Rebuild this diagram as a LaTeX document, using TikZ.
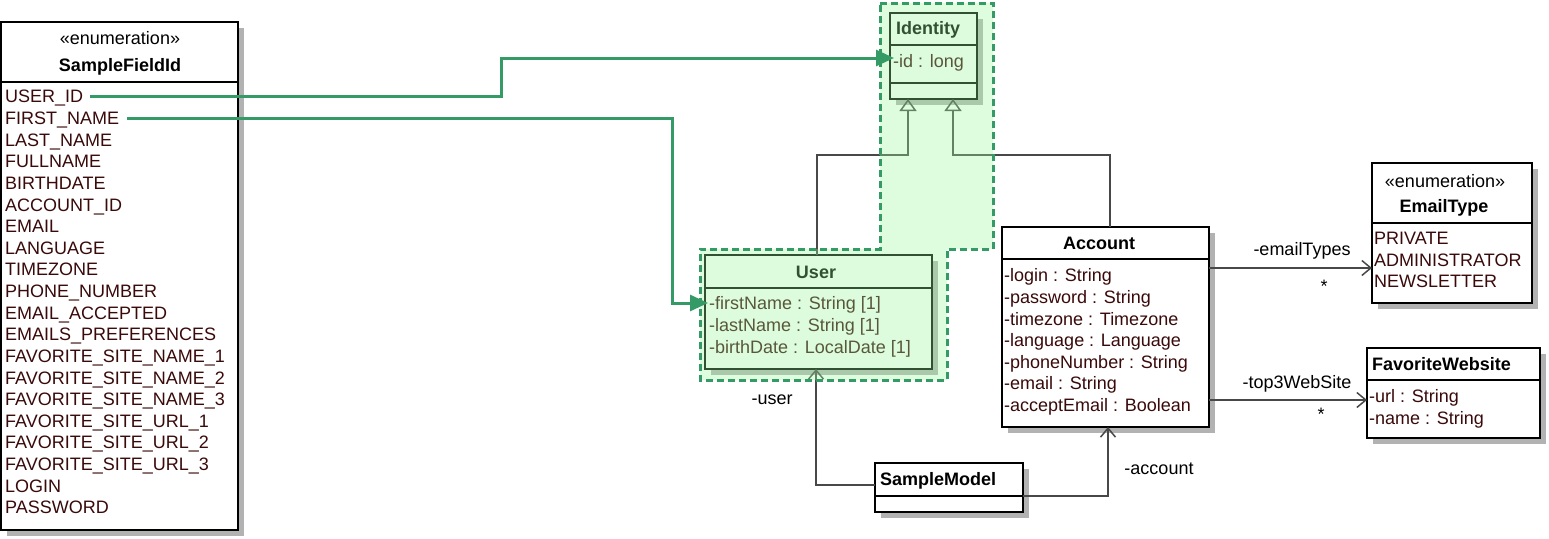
\documentclass[tikz,border=0pt]{standalone}
\usepackage{fontspec}
\setmainfont{Liberation Sans}
\usetikzlibrary{arrows.meta,calc}

\definecolor{itemcol}{RGB}{58,10,10}
\definecolor{linecol}{RGB}{72,72,72}
\definecolor{shadowgray}{RGB}{178,178,178}
\definecolor{markgreen}{RGB}{52,155,102}
\definecolor{zonefill}{RGB}{154,246,154}
\newcommand\umlfont{\fontsize{18}{21.6}\selectfont}

% class box with its drop shadow: name, x, y, width, height
\newcommand\umlbox[5]{%
  \fill[shadowgray] ($(#2,#3)+(6,6)$) rectangle ++(#4,#5);
  \node[box, minimum width=#4, minimum height=#5] (#1) at (#2,#3) {};}
% compartment separator: box name, offset below its top edge
\newcommand\sepline[2]{%
  \draw[sep] ($(#1.north west)+(0,#2)$) -- ($(#1.north east)+(0,#2)$);}

\begin{document}
\begin{tikzpicture}[x=1pt,y=-1pt,
  box/.style={draw=black, line width=1.8pt, fill=white, anchor=north west,
    inner sep=0pt, outer sep=0pt},
  sep/.style={draw=black, line width=1.4pt},
  item/.style={anchor=base west, inner sep=0pt, text=itemcol, font=\umlfont},
  title/.style={anchor=base, inner sep=0pt, text=black, font=\umlfont\bfseries},
  ltitle/.style={anchor=base west, inner sep=0pt, text=black, font=\umlfont\bfseries},
  stereo/.style={anchor=base, inner sep=0pt, text=black, font=\umlfont},
  lbl/.style={anchor=base, inner sep=0pt, text=black, font=\umlfont},
  assoc/.style={draw=linecol, line width=1.5pt,
    -{Straight Barb[length=9pt, width=15pt, line width=1.5pt]}},
  inherit/.style={draw=linecol, line width=1.5pt,
    -{Triangle[open, length=12pt, width=17pt, line width=1.5pt]}},
  fieldlink/.style={draw=markgreen, line width=3pt,
    -{Triangle[length=18pt, width=16pt]}},
  zone/.style={fill=zonefill, fill opacity=0.33, draw=none},
  zoneborder/.style={draw=markgreen, line width=3pt, dash pattern=on 7pt off 4pt},
]
\useasboundingbox (0,0) rectangle (1549,538);

% ---------- class boxes ----------
\umlbox{sfid}{1}{22}{237}{508}
\umlbox{ident}{890}{13}{87}{86}
\umlbox{user}{705}{255}{227}{114}
\umlbox{acct}{1002}{227}{207}{200}
\umlbox{emt}{1372}{163}{160}{140}
\umlbox{fav}{1367}{348}{173}{90}
\umlbox{sm}{875}{463}{148}{49}

\sepline{sfid}{60}
\sepline{ident}{32}
\sepline{ident}{70}
\sepline{user}{33}
\sepline{acct}{32}
\sepline{emt}{60}
\sepline{fav}{32}
\sepline{sm}{33}

% ---------- SampleFieldId ----------
\node[stereo] (sfst) at (120,44.4) {«enumeration»};
\node[title] (sfti) at (120,71.4) {SampleFieldId};
\foreach \t [count=\i] in {USER\_ID, FIRST\_NAME, LAST\_NAME, FULLNAME,
  BIRTHDATE, ACCOUNT\_ID, EMAIL, LANGUAGE, TIMEZONE, PHONE\_NUMBER,
  EMAIL\_ACCEPTED, EMAILS\_PREFERENCES, FAVORITE\_SITE\_NAME\_1,
  FAVORITE\_SITE\_NAME\_2, FAVORITE\_SITE\_NAME\_3, FAVORITE\_SITE\_URL\_1,
  FAVORITE\_SITE\_URL\_2, FAVORITE\_SITE\_URL\_3, LOGIN, PASSWORD}
  \node[item] (sf\i) at (5,{102.9+21.63*(\i-1)}) {\t};

% ---------- Identity ----------
\node[ltitle] (idti) at (896,34.4) {Identity};
\node[item] (idid) at (893,67.6) {-id : long};

% ---------- User ----------
\node[title] (usti) at (816,278.4) {User};
\node[item] (us1) at (709,309.6) {-firstName : String [1]};
\node[item] (us2) at (709,331.4) {-lastName : String [1]};
\node[item] (us3) at (709,353.2) {-birthDate : LocalDate [1]};

% ---------- Account ----------
\node[title] (acti) at (1099,249.4) {Account};
\foreach \t [count=\i] in {-login : String, -password : String,
  -timezone : Timezone, -language : Language, -phoneNumber : String,
  -email : String, -acceptEmail : Boolean}
  \node[item] (ac\i) at (1004,{281.9+21.6*(\i-1)}) {\t};

% ---------- EmailType ----------
\node[stereo] (emst) at (1445,187.4) {«enumeration»};
\node[title] (emti) at (1444,212.4) {EmailType};
\node[item] (em1) at (1374,244.6) {PRIVATE};
\node[item] (em2) at (1374,266.2) {ADMINISTRATOR};
\node[item] (em3) at (1374,287.8) {NEWSLETTER};

% ---------- FavoriteWebsite ----------
\node[ltitle] (fvti) at (1372,370.4) {FavoriteWebsite};
\node[item] (fv1) at (1369,402.9) {-url : String};
\node[item] (fv2) at (1369,424.5) {-name : String};

% ---------- SampleModel ----------
\node[ltitle] (smti) at (880,485.4) {SampleModel};

% ---------- relations ----------
\draw[inherit] ([xshift=-1.5pt]user.north) -- ++(0,-100)
  -| ([xshift=-25.5pt]ident.south);
\draw[inherit] ([xshift=4.5pt]acct.north) -- ++(0,-72)
  -| ([xshift=19.5pt]ident.south);

\draw[assoc] ($(acct.north east)+(0,41)$) coordinate (ae1) -- (ae1 -| emt.west);
\node[lbl] (lemt) at (1302,255.5) {-emailTypes};
\node[lbl] (lemm) at (1324,292) {*};

\draw[assoc] ($(acct.north east)+(0,173)$) coordinate (ae2) -- (ae2 -| fav.west);
\node[lbl] (lfav) at (1297,388.5) {-top3WebSite};
\node[lbl] (lfvm) at (1321,420.5) {*};

\draw[assoc] ($(sm.north west)+(0,22)$) -| ([xshift=-2.5pt]user.south);
\node[lbl] (lusr) at (772,404.5) {-user};

\draw[assoc] ($(sm.north east)+(0,33)$) -| ([xshift=2.5pt]acct.south);
\node[lbl] (lacc) at (1159,474.5) {-account};

% ---------- highlighted zone ----------
\fill[zone] (880,3) -- (993,3) -- (993,249) -- (947,249) -- (947,380)
  -- (700,380) -- (700,249) -- (880,249) -- cycle;
\draw[zoneborder] (880,3) -- (993,3) -- (993,249) -- (947,249) -- (947,380)
  -- (700,380) -- (700,249) -- (880,249) -- cycle;

% ---------- field mappings ----------
\coordinate (mk1) at (501,58);
\coordinate (mk2) at (672,303);
\draw[fieldlink, shorten >=-4pt] ($(sf1.base east)+(7,-6.4)$) -| (mk1) -- (mk1 -| ident.west);
\draw[fieldlink, shorten >=-3pt] ($(sf2.base east)+(8,-6.4)$) -| (mk2) -- (mk2 -| user.west);
\end{tikzpicture}
\end{document}
